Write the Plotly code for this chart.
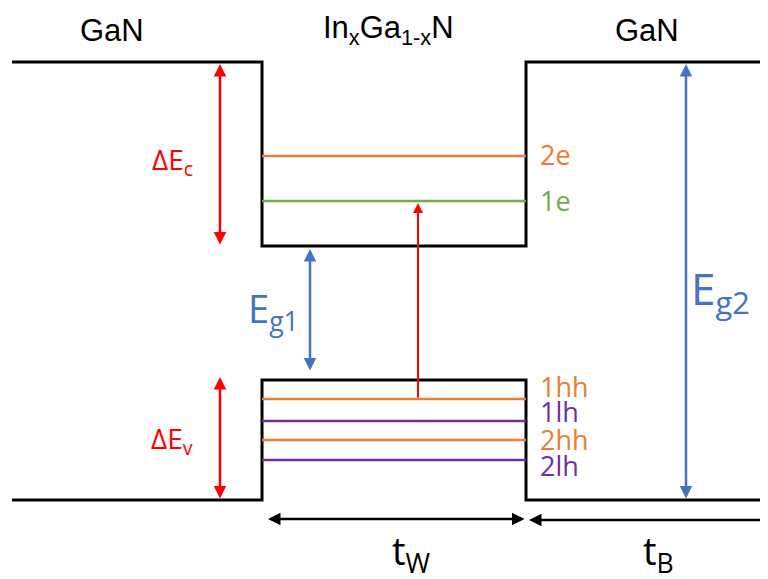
import plotly.graph_objects as go

# ---- data (diagram coordinates, pixel-like units: x to the right, y downward) ----
cb_x = [12, 262, 262, 526, 526, 776]
cb_y = [62, 62, 246, 246, 62, 62]
vb_x = [12, 262, 262, 526, 526, 776]
vb_y = [500, 500, 380, 380, 500, 500]

level_names = ["2e", "1e", "1hh", "1lh", "2hh", "2lh"]
level_y = [156, 201, 399, 421, 440, 460]
level_colors = ["#ED7D31", "#70AD47", "#ED7D31", "#7030A0", "#ED7D31", "#7030A0"]
level_label_y = [154, 200, 386, 411, 439, 465]
well_x = [262, 526]

region_labels = ["GaN", "In<sub>x</sub>Ga<sub>1-x</sub>N", "GaN"]
region_label_x = [112, 388, 647]

ORANGE, GREEN, PURPLE = "#ED7D31", "#70AD47", "#7030A0"
BLUE, RED = "#4472C4", "#FF0000"

fig = go.Figure()

fig.add_trace(go.Scatter(x=cb_x, y=cb_y, mode="lines",
                         line=dict(color="black", width=3), hoverinfo="skip"))
fig.add_trace(go.Scatter(x=vb_x, y=vb_y, mode="lines",
                         line=dict(color="black", width=3), hoverinfo="skip"))

LF = "Open Sans, Lato"
for name, yv, col, ly in zip(level_names, level_y, level_colors, level_label_y):
    fig.add_trace(go.Scatter(x=well_x, y=[yv, yv], mode="lines",
                             line=dict(color=col, width=2.5), hoverinfo="skip"))
    fig.add_annotation(x=538, y=ly, text=name, showarrow=False, xanchor="left",
                       yanchor="middle", font=dict(family=LF, size=27, color=col))

for t, xv in zip(region_labels, region_label_x):
    fig.add_annotation(x=xv, y=30, text=t, showarrow=False,
                       font=dict(family="Liberation Sans Narrow, Arial Narrow, Liberation Sans", size=31, color="black"))


def arrow(x0, y0, x1, y1, color, width=2, both=True, size=1.0):
    fig.add_annotation(x=x1, y=y1, ax=x0, ay=y0, xref="x", yref="y", axref="x", ayref="y",
                       text="", showarrow=True, arrowhead=2, arrowsize=size,
                       arrowwidth=width, arrowcolor=color,
                       arrowside="end+start" if both else "end")


arrow(220, 246, 220, 64, RED, 2.5)
arrow(220, 500, 220, 377, RED, 2.5)
arrow(418, 399, 418, 203, RED, 2, both=False)
arrow(310, 372, 310, 249, BLUE, 2.5)
arrow(686, 500, 686, 64, BLUE, 2.5)
arrow(526, 519, 268, 519, "black", 2.5)
arrow(774, 520, 529, 520, "black", 2.5)

fig.add_annotation(x=172, y=161, text="ΔE<sub>c</sub>", showarrow=False,
                   font=dict(family=LF, size=28, color=RED))
fig.add_annotation(x=172, y=440, text="ΔE<sub>v</sub>", showarrow=False,
                   font=dict(family=LF, size=28, color=RED))
fig.add_annotation(x=273, y=310, text="E<sub>g1</sub>", showarrow=False,
                   font=dict(family=LF, size=38, color=BLUE))
fig.add_annotation(x=720, y=290, text="E<sub>g2</sub>", showarrow=False,
                   font=dict(family=LF, size=44, color=BLUE))
fig.add_annotation(x=411, y=552, text="t<sub>W</sub>", showarrow=False,
                   font=dict(family=LF, size=38, color="black"))
fig.add_annotation(x=658, y=552, text="t<sub>B</sub>", showarrow=False,
                   font=dict(family=LF, size=38, color="black"))

# ranges offset by the page's 8px body margin so units equal screen pixels
fig.update_layout(width=768, height=579, margin=dict(l=0, r=0, t=0, b=0),
                  plot_bgcolor="white", paper_bgcolor="white", showlegend=False,
                  xaxis=dict(range=[8, 776], visible=False, fixedrange=True),
                  yaxis=dict(range=[587, 8], visible=False, fixedrange=True))

fig.write_html("out.html")
